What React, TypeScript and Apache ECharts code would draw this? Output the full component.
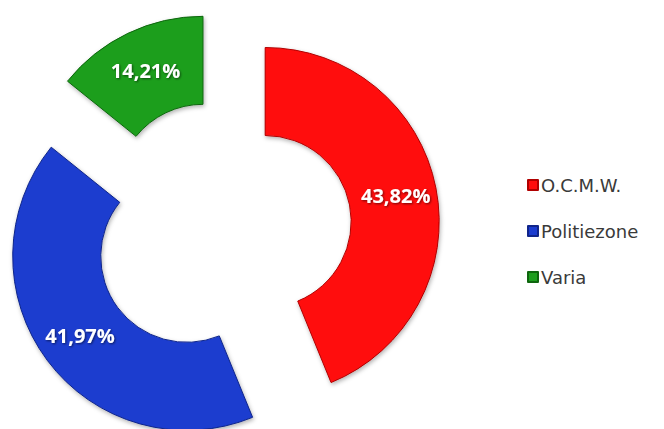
import React, { useEffect, useRef } from "react";
import * as echarts from "echarts";

const categories = ["O.C.M.W.", "Politiezone", "Varia"];
const values = [43.82, 41.97, 14.21];
const colors = ["#FF0D0D", "#1B3CCF", "#1E9E1E"];
const borderColors = ["#B00000", "#10258A", "#0E660E"];

export default function App() {
  const ref = useRef<HTMLDivElement>(null);
  useEffect(() => {
    if (!ref.current) return;
    const chart = echarts.init(ref.current, undefined, { renderer: "svg" });
    chart.setOption({
      animation: false,
      backgroundColor: "#FFFFFF",
      legend: {
        orient: "vertical",
        left: 522,
        top: 171,
        itemWidth: 10,
        itemHeight: 10,
        itemGap: 28,
        icon: "rect",
        textStyle: {
          fontFamily: "DejaVu Sans",
          fontSize: 18,
          color: "#3A3A3A",
          padding: [0, 0, 0, -2],
        },
        data: categories,
      },
      series: [
        {
          type: "pie",
          center: [222, 230],
          radius: [86, 174],
          startAngle: 90,
          clockwise: true,
          selectedMode: "multiple",
          selectedOffset: 44,
          avoidLabelOverlap: false,
          label: {
            show: true,
            position: "inside",
            color: "#FFFFFF",
            fontFamily: "Open Sans",
            fontWeight: "bold",
            fontSize: 20,
            textShadowColor: "rgba(0,0,0,0.55)",
            textShadowBlur: 2,
            textShadowOffsetX: 1,
            textShadowOffsetY: 1,
            formatter: (p: any) => p.value.toFixed(2).replace(".", ",") + "%",
          },
          labelLine: { show: false },
          emphasis: { disabled: true },
          data: categories.map((name, i) => ({
            name,
            value: values[i],
            selected: true,
            itemStyle: {
              color: colors[i],
              borderColor: borderColors[i],
              borderWidth: 1,
              shadowColor: "rgba(0,0,0,0.3)",
              shadowBlur: 4,
              shadowOffsetX: 1,
              shadowOffsetY: 2,
            },
          })),
        },
      ],
    });
    return () => chart.dispose();
  }, []);
  return (
    <div
      ref={ref}
      style={{ position: "fixed", left: 0, top: 0, width: 664, height: 429 }}
    />
  );
}
